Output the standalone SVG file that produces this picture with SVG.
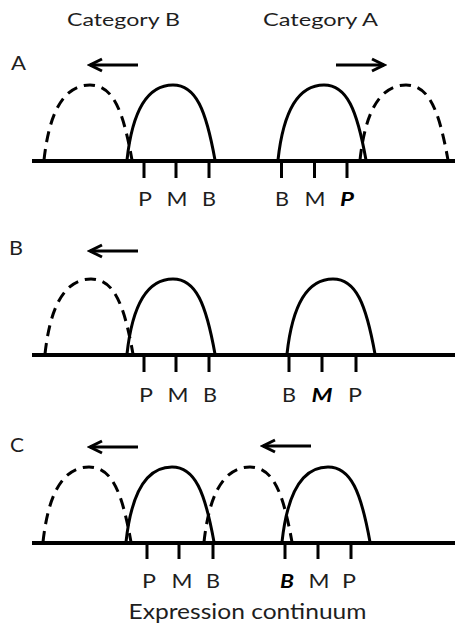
<svg xmlns="http://www.w3.org/2000/svg" xmlns:xlink="http://www.w3.org/1999/xlink" width="455" height="626" viewBox="0 0 455 626">
<style>
text{font-family:Lato,"Open Sans","Liberation Sans",sans-serif;fill:#1e1e1e}
.hd{font-size:18px}
.pl{font-size:18.5px}
.lb{font-size:19.5px;text-anchor:middle}
.bi{font-weight:bold;font-style:italic;fill:#000}
.ax{stroke:#000;stroke-width:4;fill:none}
.tk{stroke:#000;stroke-width:3;fill:none}
.sol{stroke:#000;stroke-width:3;fill:none}
.dsh{stroke:#000;stroke-width:3;fill:none;stroke-dasharray:11 7}
.arr{stroke:#000;stroke-width:3;fill:none;marker-end:url(#ah)}
</style>
<defs>
<marker id="ah" markerUnits="userSpaceOnUse" markerWidth="18" markerHeight="18" viewBox="0 0 18 18" refX="15" refY="9" orient="auto">
<path d="M3,3 L15,9 L3,15" fill="none" stroke="#000" stroke-width="3"/>
</marker>
<path id="arch" d="M0,0 C5,-46 19,-75 46,-75 C69,-75 79,-50 88,0"/>
</defs>
<g id="headers">
<text class="hd" x="67" y="25.5" textLength="113" lengthAdjust="spacingAndGlyphs">Category B</text>
<text class="hd" x="263" y="25.5" textLength="115" lengthAdjust="spacingAndGlyphs">Category A</text>
</g>
<g id="panelA">
<text class="pl" x="11" y="69.5" textLength="15" lengthAdjust="spacingAndGlyphs">A</text>
<path class="ax" d="M32,161 H455"/>
<path class="tk" d="M144,161 V178 M176,161 V178 M209,161 V178 M281.5,161 V178 M314.5,161 V178 M347,161 V178"/>
<use xlink:href="#arch" class="dsh" x="44" y="160"/>
<use xlink:href="#arch" class="sol" x="127" y="160"/>
<use xlink:href="#arch" class="sol" x="278" y="160"/>
<use xlink:href="#arch" class="dsh" x="360" y="160"/>
<text class="lb" x="145" y="206" textLength="14" lengthAdjust="spacingAndGlyphs">P</text>
<text class="lb" x="177" y="206" textLength="21" lengthAdjust="spacingAndGlyphs">M</text>
<text class="lb" x="209" y="206" textLength="14" lengthAdjust="spacingAndGlyphs">B</text>
<text class="lb" x="282" y="206" textLength="14" lengthAdjust="spacingAndGlyphs">B</text>
<text class="lb" x="315" y="206" textLength="21" lengthAdjust="spacingAndGlyphs">M</text>
<text class="lb bi" x="347" y="206" textLength="14" lengthAdjust="spacingAndGlyphs">P</text>
</g>
<g id="panelB">
<text class="pl" x="9" y="255" textLength="14" lengthAdjust="spacingAndGlyphs">B</text>
<path class="ax" d="M32,355 H455"/>
<path class="tk" d="M144,355 V372 M176,355 V372 M209,355 V372 M289,355 V372 M322,355 V372 M356,355 V372"/>
<use xlink:href="#arch" class="dsh" x="45" y="354"/>
<use xlink:href="#arch" class="sol" x="127" y="354"/>
<use xlink:href="#arch" class="sol" x="287" y="354"/>
<text class="lb" x="146" y="402" textLength="14" lengthAdjust="spacingAndGlyphs">P</text>
<text class="lb" x="178" y="402" textLength="21" lengthAdjust="spacingAndGlyphs">M</text>
<text class="lb" x="210" y="402" textLength="14" lengthAdjust="spacingAndGlyphs">B</text>
<text class="lb" x="289" y="402" textLength="14" lengthAdjust="spacingAndGlyphs">B</text>
<text class="lb bi" x="322" y="402" textLength="21" lengthAdjust="spacingAndGlyphs">M</text>
<text class="lb" x="355" y="402" textLength="14" lengthAdjust="spacingAndGlyphs">P</text>
</g>
<g id="panelC">
<text class="pl" x="10" y="452" textLength="14" lengthAdjust="spacingAndGlyphs">C</text>
<path class="ax" d="M32,543 H455"/>
<path class="tk" d="M147,543 V559 M179,543 V559 M213,543 V559 M285,543 V559 M318,543 V559 M351,543 V559"/>
<use xlink:href="#arch" class="dsh" x="43" y="542"/>
<use xlink:href="#arch" class="sol" x="126" y="542"/>
<use xlink:href="#arch" class="dsh" x="204" y="542"/>
<use xlink:href="#arch" class="sol" x="282" y="542"/>
<text class="lb" x="149" y="588" textLength="14" lengthAdjust="spacingAndGlyphs">P</text>
<text class="lb" x="182" y="588" textLength="21" lengthAdjust="spacingAndGlyphs">M</text>
<text class="lb" x="213" y="588" textLength="14" lengthAdjust="spacingAndGlyphs">B</text>
<text class="lb bi" x="287" y="588" textLength="14" lengthAdjust="spacingAndGlyphs">B</text>
<text class="lb" x="319" y="588" textLength="21" lengthAdjust="spacingAndGlyphs">M</text>
<text class="lb" x="349" y="588" textLength="14" lengthAdjust="spacingAndGlyphs">P</text>
<text id="xlabel" x="247.5" y="619" style="font-size:21px;text-anchor:middle" textLength="238" lengthAdjust="spacingAndGlyphs">Expression continuum</text>
</g>
<g id="connectors">
<path class="arr" d="M138,65 H90"/>
<path class="arr" d="M336,65 H384"/>
<path class="arr" d="M138,251 H90"/>
<path class="arr" d="M138,447 H90"/>
<path class="arr" d="M311,446 H263"/>
</g>
</svg>
